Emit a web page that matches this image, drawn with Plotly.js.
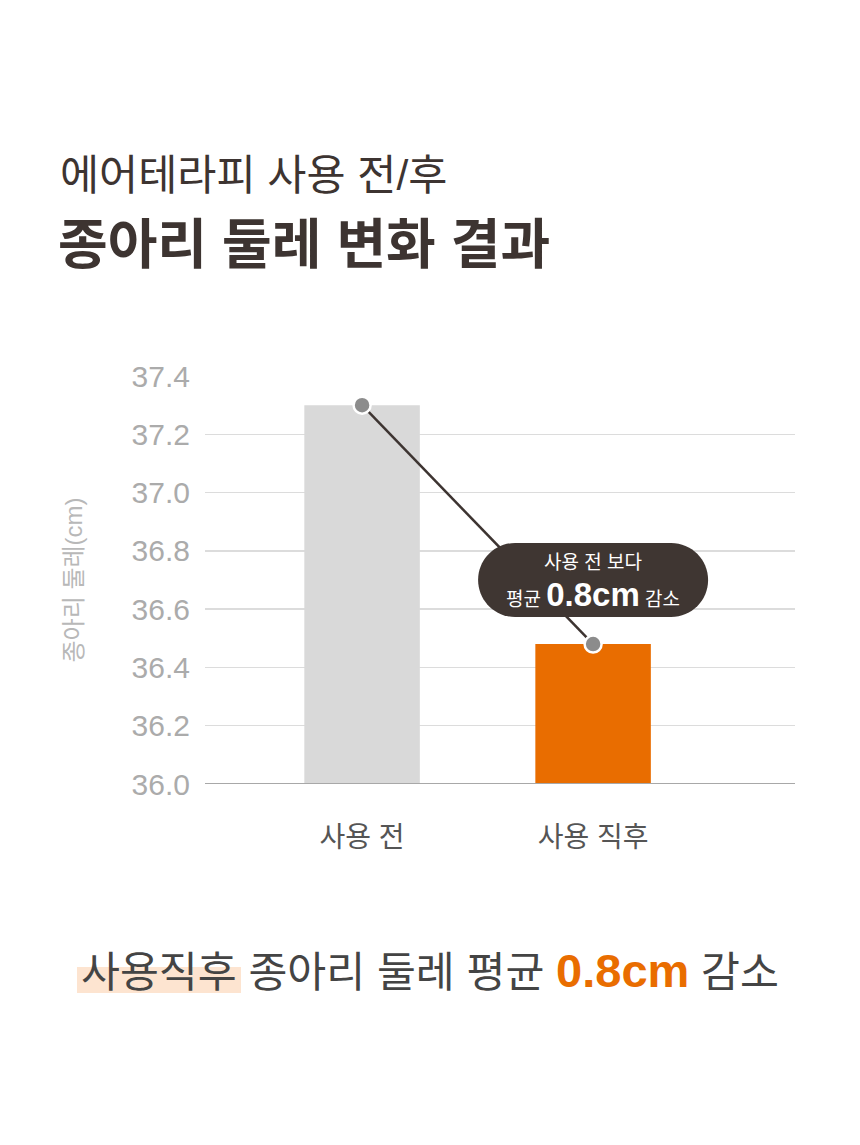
<!DOCTYPE html>
<html>
<head>
<meta charset="utf-8">
<script src="https://cdn.plot.ly/plotly-3.0.1.min.js"></script>
<style>html,body{margin:0;padding:0;background:#fff;}#chart{width:860px;height:1145px;}</style>
</head>
<body>
<div id="chart"></div>
<script>
// ---- data ----
const categories = ['사용 전', '사용 직후'];
const values = [37.3, 36.48];
const yTicks = [36.0, 36.2, 36.4, 36.6, 36.8, 37.0, 37.2, 37.4];
const yTickLabels = ['36.0', '36.2', '36.4', '36.6', '36.8', '37.0', '37.2', '37.4'];
const titleLine1 = '에어테라피 사용 전/후';
const titleLine2 = '종아리 둘레 변화 결과';
const yTitle = '종아리 둘레(cm)';
const calloutLine1 = '사용 전 보다';
const calloutValue = '0.8cm';
const bottomLead = '사용직후';
const bottomMid = ' 종아리 둘레 평균 ';
const bottomTail = ' 감소';

const FONT = 'Liberation Sans, "Noto Sans CJK KR", sans-serif';
const DARK = '#3d3431';
const ORANGE = '#e96d00';

// layout geometry (pixels)
const W = 860, H = 1145;
const L = 205, R = 65, T = 376, B = 361;
const plotW = W - L - R, plotH = H - T - B;
const px2x = p => (p - L) / plotW;
const px2y = p => (H - B - p) / plotH;

const bars = {
  type: 'bar', x: [0, 1], y: values, width: 0.5,
  marker: {color: ['#d9d9d9', ORANGE]},
  hoverinfo: 'skip'
};
const line = {
  type: 'scatter', mode: 'lines+markers', x: [0, 1], y: values,
  line: {color: DARK, width: 2.5},
  marker: {color: '#8c8c8c', size: 17, line: {color: '#ffffff', width: 2.5}},
  hoverinfo: 'skip'
};

// pill-shaped callout, centred over the second bar
const cw = 115, ch = 37, k = 0.5523 * ch;
const pill = `M ${-cw+ch} ${ch} L ${cw-ch} ${ch} C ${cw-ch+k} ${ch} ${cw} ${k} ${cw} 0 ` +
  `C ${cw} ${-k} ${cw-ch+k} ${-ch} ${cw-ch} ${-ch} L ${-cw+ch} ${-ch} ` +
  `C ${-cw+ch-k} ${-ch} ${-cw} ${-k} ${-cw} 0 C ${-cw} ${k} ${-cw+ch-k} ${ch} ${-cw+ch} ${ch} Z`;
const calloutY = 36.70;

const layout = {
  width: W, height: H,
  margin: {l: L, r: R, t: T, b: B},
  paper_bgcolor: '#ffffff', plot_bgcolor: '#ffffff',
  showlegend: false,
  font: {family: FONT},
  xaxis: {
    range: [-0.68, 1.874], tickvals: [0, 1], ticktext: categories,
    showgrid: false, zeroline: false, showline: false, ticks: '',
    tickfont: {size: 28, color: '#555555', family: FONT},
    ticklabelstandoff: 34, fixedrange: true
  },
  yaxis: {
    range: [36.0, 37.4], tickvals: yTicks, ticktext: yTickLabels,
    showgrid: true, gridcolor: '#dcdcdc', gridwidth: 1.5,
    zeroline: false, showline: false, ticks: '',
    tickfont: {size: 30, color: '#ababab', family: FONT},
    ticklabelstandoff: 14, fixedrange: true,
    title: {text: yTitle, font: {size: 24, color: '#b8b8b8', family: FONT}, standoff: 42}
  },
  shapes: [
    {type: 'line', xref: 'paper', yref: 'y', x0: 0, x1: 1, y0: 36.0, y1: 36.0,
     line: {color: '#a8a8a8', width: 2}, layer: 'above'},
    {type: 'path', xref: 'x', yref: 'y', xsizemode: 'pixel', ysizemode: 'pixel',
     xanchor: 1, yanchor: calloutY, path: pill,
     fillcolor: '#3f3632', line: {width: 0}, layer: 'above'},
    {type: 'rect', xref: 'paper', yref: 'paper', layer: 'below',
     x0: px2x(77), x1: px2x(241), y0: px2y(993), y1: px2y(967),
     fillcolor: '#fde4d0', line: {width: 0}}
  ],
  annotations: [
    {xref: 'paper', yref: 'paper', x: px2x(58), y: px2y(175), xanchor: 'left', yanchor: 'middle',
     showarrow: false, text: titleLine1, font: {size: 42.5, color: DARK, family: FONT}},
    {xref: 'paper', yref: 'paper', x: px2x(56), y: px2y(245), xanchor: 'left', yanchor: 'middle',
     showarrow: false, text: '<b>' + titleLine2 + '</b>', font: {size: 54, color: DARK, family: FONT}},
    {xref: 'x', yref: 'y', x: 1, y: calloutY, yshift: 18, xanchor: 'center', yanchor: 'middle',
     showarrow: false, text: calloutLine1, font: {size: 19, color: '#ffffff', family: FONT}},
    {xref: 'x', yref: 'y', x: 1, y: calloutY, yshift: -14, xanchor: 'center', yanchor: 'middle',
     showarrow: false,
     text: '평균 <b><span style="font-size:33px">' + calloutValue + '</span></b> 감소',
     font: {size: 19, color: '#ffffff', family: FONT}},
    {xref: 'paper', yref: 'paper', x: px2x(79), y: px2y(970),
     xanchor: 'left', yanchor: 'middle', showarrow: false,
     text: bottomLead + bottomMid + '<b><span style="color:' + ORANGE + ';font-size:47px">' + calloutValue + '</span></b>' + bottomTail,
     font: {size: 42.3, color: '#444444', family: FONT}}
  ]
};

Plotly.newPlot('chart', [bars, line], layout, {displayModeBar: false, staticPlot: true});
</script>
</body>
</html>
